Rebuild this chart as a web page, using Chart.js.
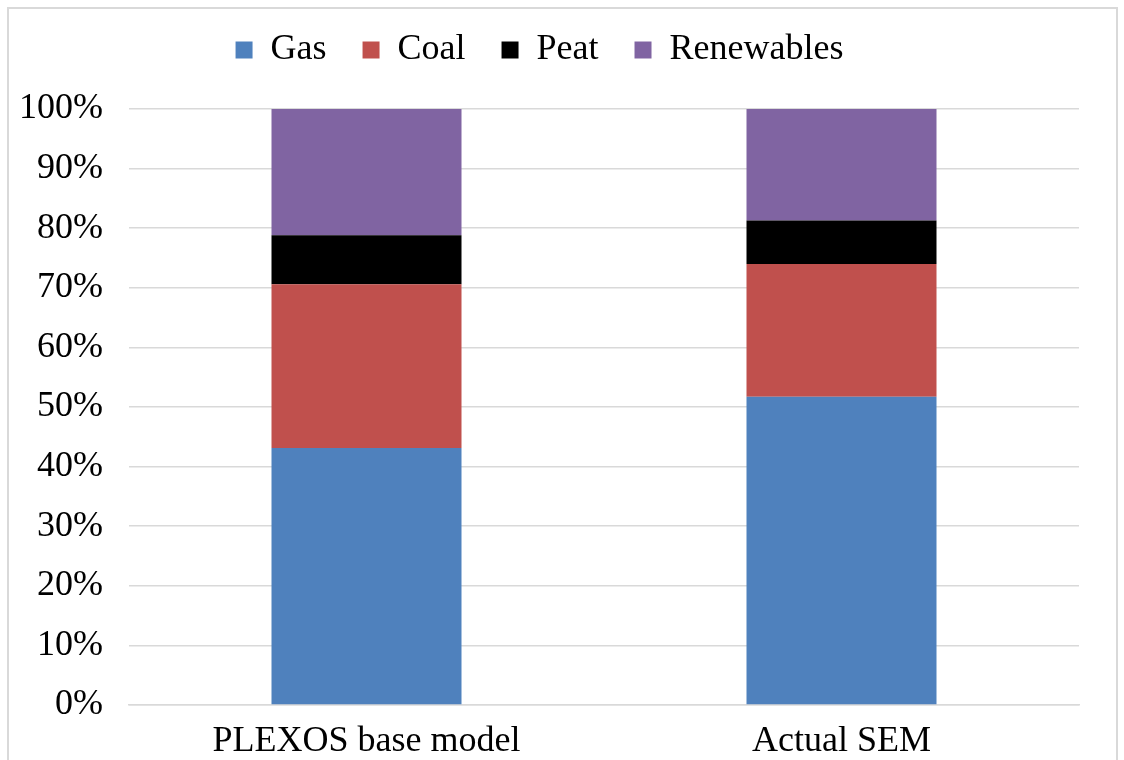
<!DOCTYPE html>
<html>
<head>
<meta charset="utf-8">
<script src="https://cdn.jsdelivr.net/npm/chart.js@4.4.1/dist/chart.umd.min.js"></script>
<style>
  html, body { margin: 0; padding: 0; background: #fff; }
  canvas { display: block; }
</style>
</head>
<body>
<canvas id="grafico" width="1124" height="760"></canvas>
<script>
// Datos del gráfico (porcentajes)
const categories = ['PLEXOS base model', 'Actual SEM'];
const gas = [43.1, 51.7];
const coal = [27.5, 22.3];
const peat = [8.2, 7.3];
const renewables = [21.2, 18.7];
const yTicks = [0, 10, 20, 30, 40, 50, 60, 70, 80, 90, 100];

const fuente = "'Liberation Serif', 'Times New Roman', serif";

// Borde gris alrededor del gráfico
const marco = {
    id: 'marco',
    beforeDraw(chart) {
        const c = chart.ctx;
        c.save();
        c.fillStyle = '#fff';
        c.fillRect(0, 0, chart.width, chart.height);
        c.strokeStyle = '#d9d9d9';
        c.lineWidth = 2;
        c.strokeRect(8, 8, 1109, 800);
        c.restore();
    }
};

// Espacio extra debajo de la leyenda
const espacioLeyenda = {
    id: 'espacioLeyenda',
    beforeInit(chart) {
        const fitOriginal = chart.legend.fit;
        chart.legend.fit = function () {
            fitOriginal.bind(chart.legend)();
            this.height += 31;
        };
    }
};

const ctx = document.getElementById('grafico').getContext('2d');

new Chart(ctx, {
    type: 'bar',
    data: {
        labels: categories,
        datasets: [
            { label: 'Gas', data: gas, backgroundColor: '#4F81BD' },
            { label: 'Coal', data: coal, backgroundColor: '#C0504D' },
            { label: 'Peat', data: peat, backgroundColor: '#000000' },
            { label: 'Renewables', data: renewables, backgroundColor: '#8064A2' }
        ]
    },
    options: {
        responsive: false,
        animation: false,
        layout: { padding: { top: -4, right: 45, bottom: -19, left: 0 } },
        datasets: {
            bar: { barPercentage: 0.4, categoryPercentage: 1.0 }
        },
        plugins: {
            legend: {
                position: 'top',
                labels: {
                    color: '#000',
                    font: { family: fuente, size: 36, lineHeight: 1 },
                    boxWidth: 17,
                    boxHeight: 17,
                    padding: 36
                }
            },
            tooltip: { enabled: false }
        },
        scales: {
            x: {
                stacked: true,
                grid: { display: false, drawTicks: false },
                border: { display: true, color: '#d9d9d9', width: 1.5 },
                ticks: {
                    color: '#000',
                    padding: 19,
                    font: { family: fuente, size: 36, lineHeight: 1 }
                }
            },
            y: {
                stacked: true,
                min: 0,
                max: 100,
                afterFit: scale => { scale.width = 129; },
                afterBuildTicks: scale => { scale.ticks = yTicks.map(v => ({ value: v })); },
                grid: { color: '#d9d9d9', lineWidth: 1.5, drawTicks: false },
                border: { display: false },
                ticks: {
                    color: '#000',
                    padding: 26,
                    font: { family: fuente, size: 36, lineHeight: 1 },
                    callback: v => v + '%'
                }
            }
        }
    },
    plugins: [marco, espacioLeyenda]
});
</script>
</body>
</html>
